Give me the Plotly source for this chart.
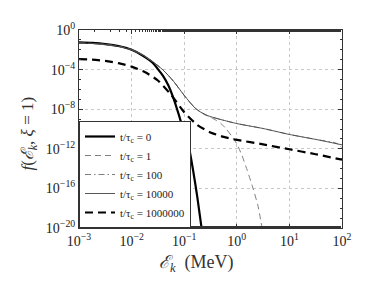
import numpy as np
import plotly.graph_objects as go

# ---- data (log10 values) ----
x_t0 = [-3, -2.75, -2.5, -2.25, -2.0, -1.8, -1.6, -1.5, -1.4, -1.3, -1.2, -1.1, -1.0, -0.92, -0.83, -0.75, -0.67]
y_t0 = [-1.26, -1.31, -1.42, -1.62, -2.0, -2.55, -3.3, -3.95, -4.65, -5.6, -6.95, -8.6, -10.4, -11.6, -14.2, -16.9, -20]

x_t4 = [-3, -2.75, -2.5, -2.25, -2.0, -1.8, -1.6, -1.5, -1.4, -1.3, -1.2, -1.1, -1.0, -0.9, -0.8, -0.7, -0.6, -0.5, -0.3, 0, 0.5, 1.0, 1.5, 2.0]
y_t4 = [-1.32, -1.36, -1.46, -1.65, -2.0, -2.5, -3.2, -3.6, -4.05, -4.6, -5.2, -5.9, -6.6, -7.25, -7.85, -8.25, -8.55, -8.75, -9.05, -9.45, -9.95, -10.55, -11.05, -11.6]

x_t2 = [-3, -2.75, -2.5, -2.25, -2.0, -1.8, -1.6, -1.5, -1.4, -1.3, -1.2, -1.1, -1.0, -0.9, -0.8, -0.7, -0.6, -0.5, -0.3, 0, 0.5, 1.0, 1.5, 1.9, 2.0]
y_t2 = [-1.32, -1.36, -1.46, -1.65, -2.0, -2.5, -3.2, -3.6, -4.05, -4.6, -5.2, -5.9, -6.6, -7.25, -7.85, -8.25, -8.55, -8.75, -9.05, -9.45, -9.95, -10.55, -11.05, -11.45, -11.9]

x_t1 = [-3, -2.75, -2.5, -2.25, -2.0, -1.8, -1.6, -1.5, -1.4, -1.3, -1.2, -1.1, -1.0, -0.9, -0.8, -0.7, -0.6, -0.5, -0.4, -0.3, -0.2, -0.1, 0, 0.1, 0.2, 0.3, 0.4, 0.48]
y_t1 = [-1.32, -1.36, -1.46, -1.65, -2.0, -2.5, -3.2, -3.6, -4.05, -4.6, -5.2, -5.9, -6.6, -7.25, -7.85, -8.25, -8.55, -8.8, -9.1, -9.45, -10.0, -10.7, -11.5, -12.7, -14.2, -15.85, -17.7, -20]

x_t6 = [-3, -2.75, -2.5, -2.25, -2.0, -1.75, -1.5, -1.25, -1.0, -0.75, -0.5, -0.25, 0, 0.5, 1.0, 1.5, 2.0]
y_t6 = [-2.94, -3.0, -3.12, -3.35, -3.7, -4.25, -5.1, -6.55, -8.3, -9.6, -10.35, -10.8, -11.1, -11.55, -12.05, -12.55, -13.1]

labels = ["t/τ<sub>c</sub> = 0", "t/τ<sub>c</sub> = 1", "t/τ<sub>c</sub> = 100",
          "t/τ<sub>c</sub> = 10000", "t/τ<sub>c</sub> = 1000000"]

x_ticks = [-3, -2, -1, 0, 1, 2]
y_ticks = [-20, -16, -12, -8, -4, 0]

def p10(a):
    return np.power(10.0, np.array(a, dtype=float))

def tt(e):
    return "10<sup>" + str(e).replace("-", "\u2212") + "</sup>"

series = [
    (x_t0, y_t0, labels[0], dict(color="black", width=2.2, dash="solid")),
    (x_t1, y_t1, labels[1], dict(color="#707070", width=0.9, dash="6px,4px")),
    (x_t2, y_t2, labels[2], dict(color="#707070", width=0.9, dash="6px,3px,1.5px,3px")),
    (x_t4, y_t4, labels[3], dict(color="#444444", width=0.9, dash="solid")),
    (x_t6, y_t6, labels[4], dict(color="black", width=2.2, dash="8px,5px")),
]

fig = go.Figure()
for xs, ys, name, ln in series:
    fig.add_trace(go.Scatter(x=p10(xs), y=p10(ys), mode="lines", name=name,
                             line=dict(shape="spline", smoothing=0.6, **ln)))

serif = "Liberation Serif, Times New Roman, DejaVu Serif, serif"

axis_common = dict(
    type="log", showline=True, linecolor="#333333", linewidth=1, mirror="ticks",
    ticks="inside", ticklen=4, tickcolor="#333333",
    showgrid=True, gridcolor="#c8c8c8", griddash="dot", gridwidth=1,
    zeroline=False, tickfont=dict(family=serif, size=14, color="#222222"),
)

fig.update_xaxes(range=[-3, 2], tickmode="array",
                 tickvals=list(p10(x_ticks)), ticktext=[tt(e) for e in x_ticks],
                 minor=dict(ticks="inside", ticklen=2, tickcolor="#333333", showgrid=False),
                 **axis_common)
fig.update_yaxes(range=[-20, 0], tickmode="array",
                 tickvals=list(p10(y_ticks)), ticktext=[tt(e) for e in y_ticks],
                 minor=dict(ticks="inside", ticklen=2, tickcolor="#333333", showgrid=False,
                            tickmode="array", tickvals=list(p10(list(range(-20, 1))))),
                 **axis_common)

# page has an 8px body margin: figure is 366x274 placed at (8, 8)
fig.update_layout(
    width=366, height=274,
    margin=dict(l=71, r=32, t=14, b=54),
    paper_bgcolor="white", plot_bgcolor="white",
    font=dict(family=serif, size=12, color="#222222"),
    legend=dict(x=0, y=0, xanchor="left", yanchor="bottom",
                bgcolor="white", bordercolor="#333333", borderwidth=1,
                font=dict(family=serif, size=11, color="#222222"),
                itemwidth=30, tracegroupgap=0),
    showlegend=True,
    annotations=[
        dict(text="<i>ℰ<sub>k</sub></i>  (MeV)", xref="paper", yref="paper",
             x=0.447, y=-0.18, xanchor="center", yanchor="middle", showarrow=False,
             font=dict(family=serif, size=18, color="#333333")),
        dict(text="<i>f</i>(<i>ℰ<sub>k</sub></i>, <i>ξ</i> = 1)", xref="paper", yref="paper",
             x=-0.19, y=0.477, xanchor="center", yanchor="middle", showarrow=False, textangle=-90,
             font=dict(family=serif, size=17, color="#333333")),
    ],
)

fig.write_html("out.html")
